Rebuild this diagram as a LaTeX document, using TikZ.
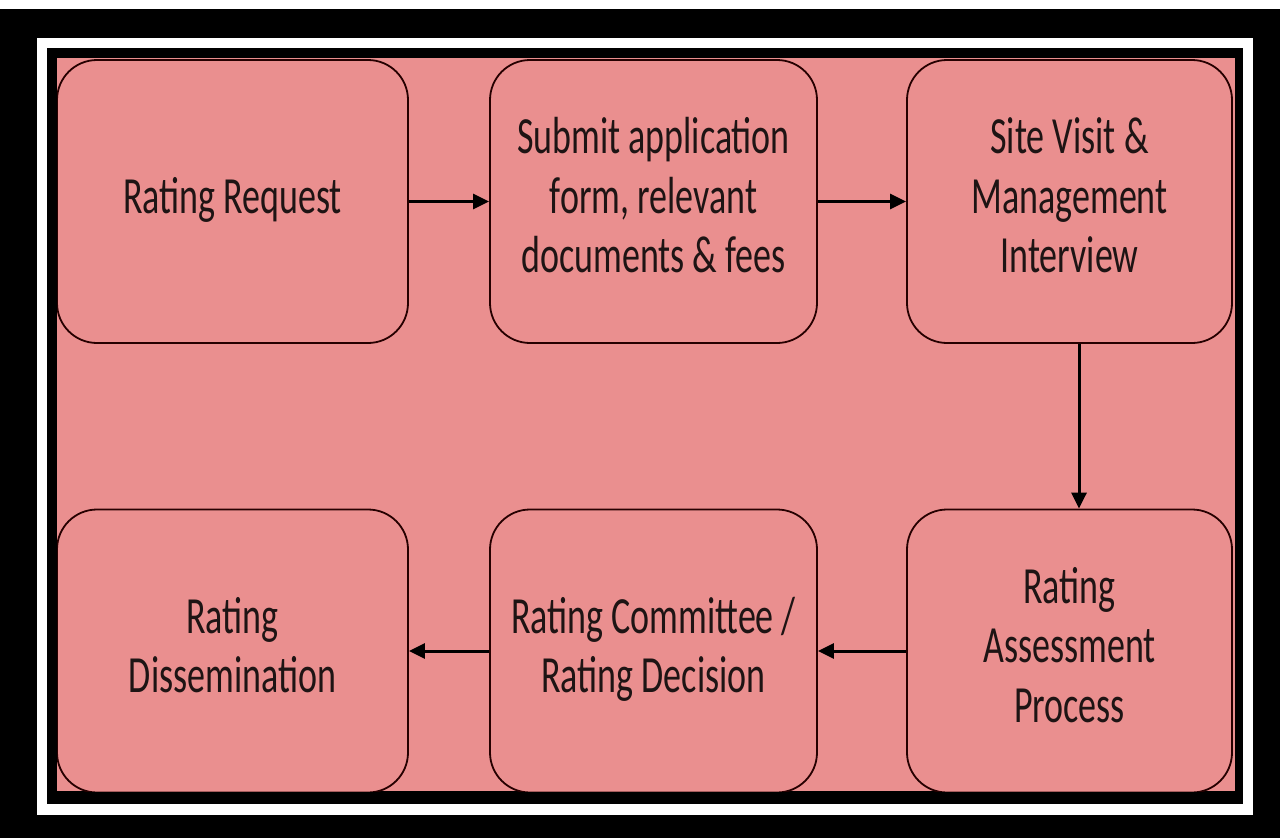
\documentclass[tikz,border=0pt]{standalone}
\usepackage{fontspec}
\usepackage{graphicx}
\setmainfont{Carlito}
\usetikzlibrary{arrows.meta}
\definecolor{pinkbg}{RGB}{234,143,143}
\definecolor{txt}{RGB}{30,20,20}
\newcommand{\stx}[1]{\scalebox{1}[1.45]{\begin{tabular}{@{}c@{}}#1\end{tabular}}}
\begin{document}
\begin{tikzpicture}[x=1pt,y=-1pt,
  stepbox/.style={draw=black!85!red, line width=1.8pt, rounded corners=40pt, fill=pinkbg,
    minimum width=#1, minimum height=283pt, inner sep=0pt, align=center,
    text=txt, font=\fontsize{36}{41}\selectfont},
  stepbox/.default=351pt,
  conn/.style={line width=3pt, black, -{Triangle[length=16pt,width=15pt]}}]
\fill[black] (0,0) rectangle (1280,838);
\fill[white] (0,0) rectangle (1280,9);
\fill[white] (37,38) rectangle (1253,815);
\fill[black] (47,48) rectangle (1243,804);
\fill[pinkbg] (57,58) rectangle (1235,791);
\begin{scope}
\clip (57,58) rectangle (1235,791);
\node[stepbox=351pt] (a) at (232.5,201.5) {\stx{Rating Request}};
\node[stepbox=327pt] (b) at (653.5,201.5) {\stx{Submit application\\form, relevant\\documents \& fees}};
\node[stepbox=325pt] (c) at (1069.5,201.5) {\stx{Site Visit \&\\Management\\Interview}};
\node[stepbox=325pt] (d) at (1069.5,651) {\stx{Rating\\Assessment\\Process}};
\node[stepbox=327pt] (e) at (653.5,651) {\stx{Rating Committee /\\Rating Decision}};
\node[stepbox=351pt] (f) at (232.5,651) {\stx{Rating\\Dissemination}};
\end{scope}
\draw[conn] (a.east) -- (b.west);
\draw[conn] (b.east) -- (c.west);
\draw[conn] (c.south -| 1079,0) -- (d.north -| 1079,0);
\draw[conn] (d.west) -- (e.east);
\draw[conn] (e.west) -- (f.east);
\end{tikzpicture}
\end{document}
